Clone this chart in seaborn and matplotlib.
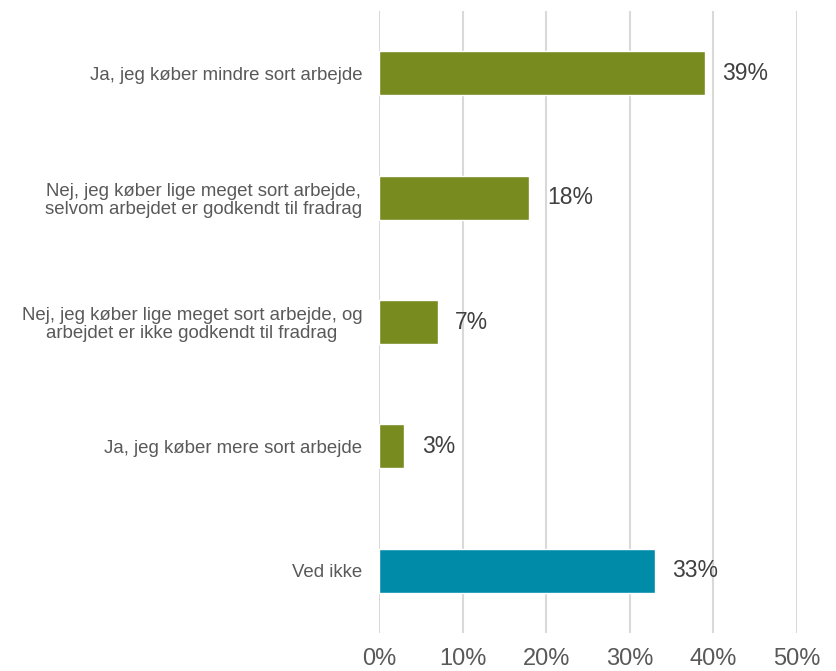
import pandas as pd
import matplotlib.pyplot as plt
import seaborn as sns

# Data
categories = [
    'Ja, jeg køber mindre sort arbejde',
    'Nej, jeg køber lige meget sort arbejde,\nselvom arbejdet er godkendt til fradrag',
    'Nej, jeg køber lige meget sort arbejde, og\narbejdet er ikke godkendt til fradrag',
    'Ja, jeg køber mere sort arbejde',
    'Ved ikke',
]
values = [39, 18, 7, 3, 33]
bar_colors = ['#778B1F', '#778B1F', '#778B1F', '#778B1F', '#008CA8']
x_ticks = [0, 10, 20, 30, 40, 50]

df = pd.DataFrame({'category': categories, 'value': values})

sns.set_style('white')
plt.rcParams['font.family'] = ['Liberation Sans', 'DejaVu Sans']

fig = plt.figure(figsize=(8.37, 6.71), dpi=100)
ax = fig.add_axes([0.4528, 0.0566, 0.4994, 0.927])

sns.barplot(data=df, x='value', y='category', hue='category', palette=bar_colors,
            orient='h', width=0.355, legend=False, ax=ax, saturation=1)

# Value labels
for i, v in enumerate(values):
    ax.text(v + 2.1, i, f'{v}%', va='center', ha='left', fontsize=16.5, color='#404040')

ax.set_xlim(0, 50)
ax.set_xticks(x_ticks)
ax.set_xticklabels([f'{t}%' for t in x_ticks], fontsize=17, color='#595959')
ax.tick_params(axis='x', length=0, pad=11)
ax.tick_params(axis='y', length=0, pad=12, labelsize=13.4, labelcolor='#595959')
for lbl in ax.get_yticklabels():
    lbl.set_multialignment('center')
    lbl.set_linespacing(1.1)
ax.set_xlabel('')
ax.set_ylabel('')
ax.xaxis.grid(True, color='#D9D9D9', linewidth=1.5)
ax.set_axisbelow(True)
for s in ax.spines.values():
    s.set_visible(False)

fig.savefig('out.png', dpi=100)
